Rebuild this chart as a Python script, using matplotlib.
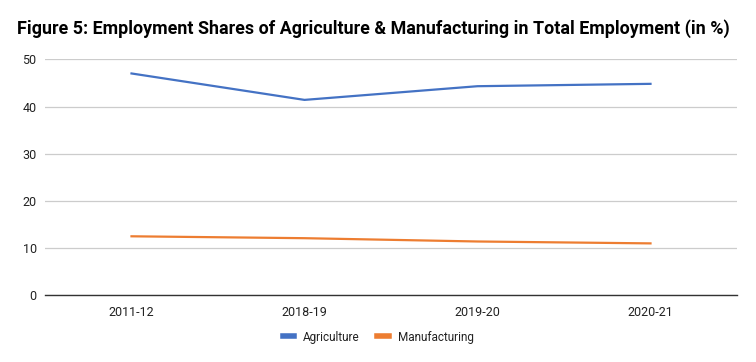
import matplotlib
matplotlib.use("Agg")
import matplotlib.pyplot as plt

years = ["2011-12", "2018-19", "2019-20", "2020-21"]
agriculture = [47.0, 41.4, 44.3, 44.8]
manufacturing = [12.5, 12.1, 11.4, 11.0]
yticks = [0, 10, 20, 30, 40, 50]

plt.rcParams['font.family'] = ['Roboto', 'DejaVu Sans']

fig = plt.figure(figsize=(7.56, 3.62), dpi=100)
ax = fig.add_axes([45/756, 1-295.3/362, (737-45)/756, (295.3-59.3)/362])

x = list(range(len(years)))
ax.plot(x, agriculture, color='#4472C4', lw=1.6, label='Agriculture')
ax.plot(x, manufacturing, color='#ED7D31', lw=1.6, label='Manufacturing')

ax.set_xlim(-0.5, len(years)-0.5)
ax.set_ylim(0, 50)
ax.set_yticks(yticks)
ax.set_xticks(x)
ax.set_xticklabels(years)
ax.tick_params(axis='both', length=0, labelsize=9, colors='#222222')
ax.tick_params(axis='y', pad=6)
ax.tick_params(axis='x', pad=8)
ax.grid(axis='y', color='#cccccc', lw=0.9)
ax.set_axisbelow(True)
for s in ['top', 'right', 'left']:
    ax.spines[s].set_visible(False)
ax.spines['bottom'].set_color('#333333')
ax.spines['bottom'].set_linewidth(1.0)
ax.spines['bottom'].set_zorder(3)

fig.text(373/756, 1-29/362, "Figure 5: Employment Shares of Agriculture & Manufacturing in Total Employment (in %)",
         ha='center', va='center', fontsize=12.9, fontweight='bold', color='#000000')

leg = fig.legend(loc='center', bbox_to_anchor=(378/756, 1-337/362), ncol=2, frameon=False,
                 fontsize=8.5, handlelength=1.0, handletextpad=0.75, columnspacing=1.45)
for l in leg.get_lines():
    l.set_linewidth(4)
for t in leg.get_texts():
    t.set_color('#222222')

fig.savefig("out.png", dpi=100)
